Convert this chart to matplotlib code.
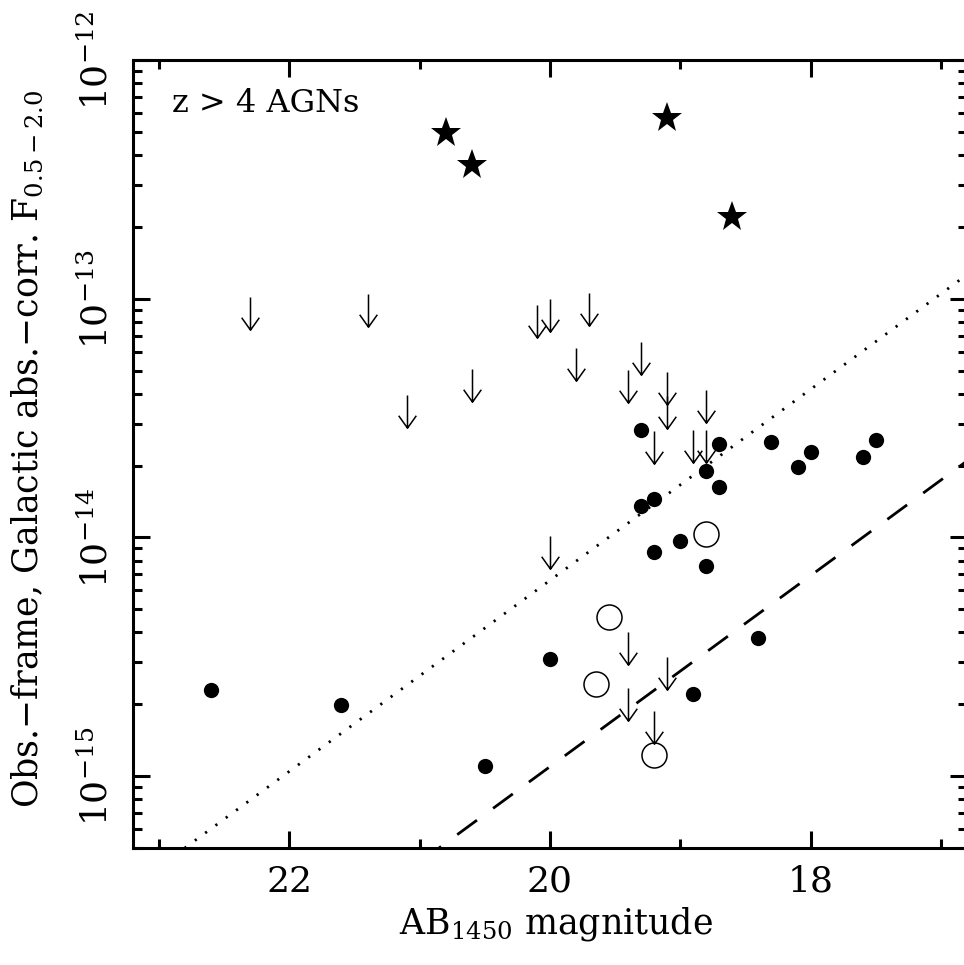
import matplotlib
matplotlib.use('Agg')
import matplotlib.pyplot as plt
from matplotlib.path import Path
from matplotlib.ticker import MultipleLocator, LogLocator, NullFormatter, FixedLocator

plt.rcParams['font.family'] = ['DejaVu Serif']
plt.rcParams['mathtext.fontset'] = 'dejavuserif'

# detections (filled circles)
det_mag = [19.3, 18.7, 18.3, 18.0, 18.1, 17.5, 17.6, 18.8, 18.7, 19.2,
           19.3, 19.0, 19.2, 18.8, 18.4, 22.6, 21.6, 20.0, 20.5, 18.9]
det_flux = [2.82e-14, 2.46e-14, 2.50e-14, 2.29e-14, 1.97e-14, 2.56e-14, 2.17e-14,
            1.89e-14, 1.63e-14, 1.45e-14, 1.36e-14, 9.7e-15, 8.7e-15, 7.6e-15,
            3.8e-15, 2.30e-15, 1.99e-15, 3.1e-15, 1.10e-15, 2.21e-15]

# open circles
open_mag = [18.8, 19.55, 19.65, 19.2]
open_flux = [1.03e-14, 4.65e-15, 2.44e-15, 1.23e-15]

# stars
star_mag = [20.8, 20.6, 19.1, 18.6]
star_flux = [4.95e-13, 3.64e-13, 5.73e-13, 2.21e-13]

# upper limits (arrows)
ul_mag = [22.3, 21.4, 21.1, 20.6, 20.1, 20.0, 19.7, 19.8, 20.0, 19.3, 19.4,
          19.1, 19.1, 18.8, 19.2, 18.9, 18.8, 19.4, 19.4, 19.1, 19.2]
ul_flux = [1.02e-13, 1.05e-13, 3.96e-14, 5.07e-14, 9.44e-14, 1.0e-13, 1.06e-13,
           6.21e-14, 1.01e-14, 6.62e-14, 5.01e-14, 4.93e-14, 3.90e-14, 4.13e-14,
           2.80e-14, 2.82e-14, 2.82e-14, 4.0e-15, 2.34e-15, 3.15e-15, 1.88e-15]

# reference lines (end points)
dotted_mag = [23.2, 16.8]
dotted_flux = [3.47e-16, 1.26e-13]
dashed_mag = [23.2, 16.8]
dashed_flux = [5.75e-17, 2.09e-14]

# downward arrow marker, top of the shaft sits on the data point
arrow = Path([(0, 0), (0, -1), (-0.27, -0.62), (0, -1), (0.27, -0.62)],
             [Path.MOVETO, Path.LINETO, Path.MOVETO, Path.LINETO, Path.LINETO])

fig = plt.figure(figsize=(9.64, 9.65), dpi=100)
ax = fig.add_axes([0.138, 0.1212, 0.865, 0.8166])

ax.plot(dotted_mag, dotted_flux, color='k', lw=2.0, linestyle=(0, (0.8, 3.8)))
ax.plot(dashed_mag, dashed_flux, color='k', lw=2.0, linestyle=(0, (8.8, 7.2)))

ax.plot(det_mag, det_flux, 'o', color='k', ms=11, mew=0)
ax.plot(open_mag, open_flux, 'o', mfc='none', mec='k', ms=18, mew=1.1)
ax.plot(star_mag, star_flux, '*', color='k', ms=23, mew=0)
ax.plot(ul_mag, ul_flux, ls='none', marker=arrow, ms=47, mfc='none', mec='k', mew=1.1)

ax.set_yscale('log')
ax.set_xlim(23.2, 16.8)
ax.set_ylim(5e-16, 1e-12)

ax.xaxis.set_major_locator(MultipleLocator(2))
ax.xaxis.set_minor_locator(MultipleLocator(1))
ax.yaxis.set_major_locator(FixedLocator([1e-15, 1e-14, 1e-13, 1e-12]))
ax.yaxis.set_minor_locator(LogLocator(base=10, subs=range(2, 10)))
ax.yaxis.set_minor_formatter(NullFormatter())
ax.set_yticklabels([r'$10^{-15}$', r'$10^{-14}$', r'$10^{-13}$', r'$10^{-12}$'],
                   rotation=90, va='center')

ax.tick_params(which='both', direction='in', top=True, right=True, width=2.2,
               labelsize=26)
ax.tick_params(which='major', length=12)
ax.tick_params(which='minor', length=6.5)
ax.tick_params(axis='x', pad=12)
ax.tick_params(axis='y', pad=13)
for s in ax.spines.values():
    s.set_linewidth(2.2)

ax.set_xlabel(r'AB$_{1450}$ magnitude', fontsize=25)
ax.set_ylabel('Obs.\u2212frame, Galactic abs.\u2212corr. F$_{0.5\u22122.0}$', fontsize=25)
ax.xaxis.set_label_coords(0.507, -0.072)
ax.yaxis.set_label_coords(-0.104, 0.506)

ax.text(0.047, 0.934, 'z > 4 AGNs', transform=ax.transAxes, fontsize=23,
        va='baseline', ha='left')

fig.savefig('out.png', dpi=100)
